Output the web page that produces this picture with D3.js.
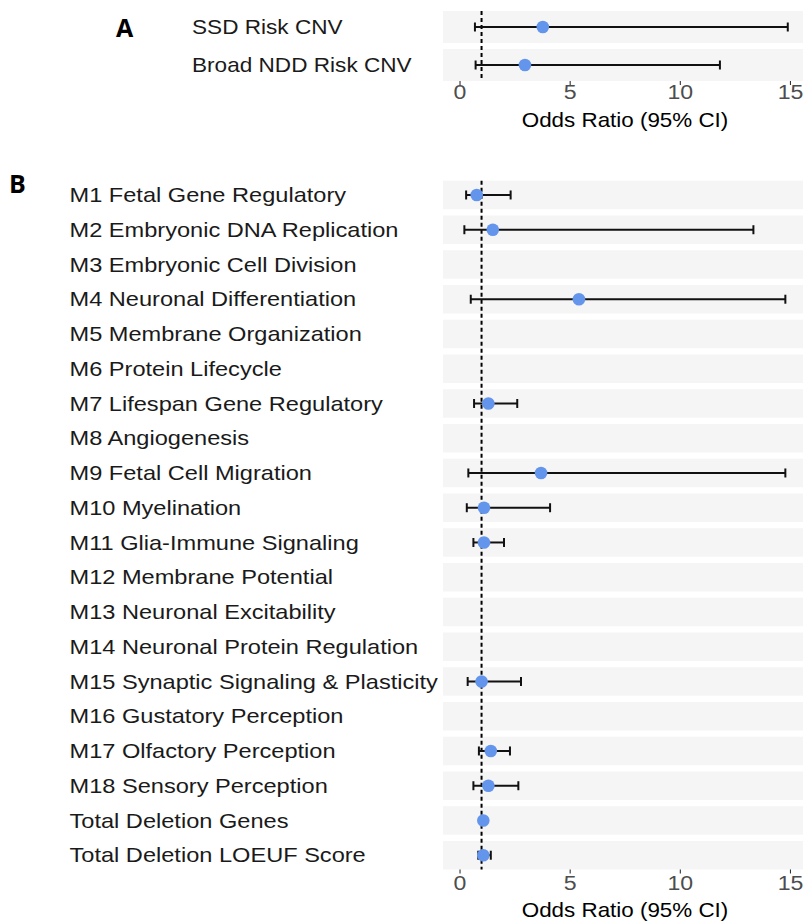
<!DOCTYPE html>
<html>
<head>
<meta charset="utf-8">
<script src="https://cdn.jsdelivr.net/npm/d3@7/dist/d3.min.js"></script>
<style>
  html, body { margin: 0; padding: 0; background: #fff; }
  svg { display: block; }
  text { font-family: "Liberation Sans", Arial, Helvetica, sans-serif; }
</style>
</head>
<body>
<svg id="chart" width="803" height="922"></svg>
<script>
// ---------- Data ----------
const cnvCategories = ["SSD Risk CNV", "Broad NDD Risk CNV"];
const cnvOR   = [3.78, 2.97];
const cnvLow  = [0.70, 0.73];
const cnvHigh = [14.9, 11.82];

const moduleCategories = [
  "M1 Fetal Gene Regulatory",
  "M2 Embryonic DNA Replication",
  "M3 Embryonic Cell Division",
  "M4 Neuronal Differentiation",
  "M5 Membrane Organization",
  "M6 Protein Lifecycle",
  "M7 Lifespan Gene Regulatory",
  "M8 Angiogenesis",
  "M9 Fetal Cell Migration",
  "M10 Myelination",
  "M11 Glia-Immune Signaling",
  "M12 Membrane Potential",
  "M13 Neuronal Excitability",
  "M14 Neuronal Protein Regulation",
  "M15 Synaptic Signaling & Plasticity",
  "M16 Gustatory Perception",
  "M17 Olfactory Perception",
  "M18 Sensory Perception",
  "Total Deletion Genes",
  "Total Deletion LOEUF Score"
];
const moduleOR   = [0.78, 1.51, null, 5.42, null, null, 1.31, null, 3.70, 1.11, 1.11, null, null, null, 1.00, null, 1.42, 1.31, 1.08, 1.08];
const moduleLow  = [0.30, 0.22, null, 0.51, null, null, 0.66, null, 0.40, 0.33, 0.63, null, null, null, 0.37, null, 0.88, 0.63, 1.03, 0.85];
const moduleHigh = [2.32, 13.34, null, 14.79, null, null, 2.62, null, 14.79, 4.11, 2.02, null, null, null, 2.79, null, 2.29, 2.67, 1.13, 1.42];

const xTicks = [0, 5, 10, 15];
const refLine = 1;
const axisTitle = "Odds Ratio (95% CI)";

// ---------- Layout ----------
const svg = d3.select("#chart");
const panelLeft = 443, panelRight = 803;
const x = d3.scaleLinear().domain([-0.75, 15.75]).range([panelLeft, 806.5]);
const SX = 1.17; // horizontal text stretch for labels

function drawPanel(cfg) {
  const rows = cfg.cats.map((c, i) => ({ cat: c, or: cfg.or[i], lo: cfg.lo[i], hi: cfg.hi[i] }));
  const y = d3.scaleBand().domain(cfg.cats).range(cfg.yRange)
    .paddingInner(cfg.padIn).paddingOuter(cfg.padIn / 2);
  const g = svg.append("g");
  const top = y(cfg.cats[0]);
  const bottom = y(cfg.cats[cfg.cats.length - 1]) + y.bandwidth();

  g.selectAll("rect.band").data(rows).join("rect")
    .attr("class", "band")
    .attr("x", panelLeft).attr("width", panelRight - panelLeft)
    .attr("y", d => y(d.cat)).attr("height", y.bandwidth())
    .attr("fill", "#f5f5f5");

  g.append("line")
    .attr("x1", x(refLine)).attr("x2", x(refLine))
    .attr("y1", top).attr("y2", bottom)
    .attr("stroke", "#000").attr("stroke-width", 2)
    .attr("stroke-dasharray", "4,3");

  const valid = rows.filter(d => d.or !== null);
  const cy = d => y(d.cat) + y.bandwidth() / 2;

  g.selectAll("line.err").data(valid).join("line")
    .attr("class", "err")
    .attr("x1", d => x(d.lo)).attr("x2", d => x(d.hi))
    .attr("y1", cy).attr("y2", cy)
    .attr("stroke", "#111").attr("stroke-width", 2);
  ["lo", "hi"].forEach(k => {
    g.selectAll("line.cap" + k).data(valid).join("line")
      .attr("class", "cap" + k)
      .attr("x1", d => x(d[k])).attr("x2", d => x(d[k]))
      .attr("y1", d => cy(d) - 4.5).attr("y2", d => cy(d) + 4.5)
      .attr("stroke", "#111").attr("stroke-width", 2);
  });

  g.selectAll("circle").data(valid).join("circle")
    .attr("cx", d => x(d.or)).attr("cy", cy).attr("r", 6.3)
    .attr("fill", "#6495ED");

  g.selectAll("text.lab").data(rows).join("text")
    .attr("class", "lab")
    .attr("transform", d => `translate(${cfg.labelX},${cy(d) + 7.2}) scale(${cfg.labSX},1)`)
    .attr("font-size", 20).attr("fill", "#1a1a1a")
    .text(d => d.cat);

  const axis = d3.axisBottom(x).tickValues(xTicks).tickSize(4).tickPadding(3);
  const ag = g.append("g").attr("transform", `translate(0,${bottom})`).call(axis);
  ag.select(".domain").remove();
  ag.selectAll(".tick line").attr("stroke", "#333").attr("stroke-width", 1.1);
  ag.selectAll(".tick text")
    .attr("y", null).attr("dy", null)
    .attr("transform", `translate(0,${cfg.tickBase}) scale(1.1,1)`)
    .attr("font-size", 21).attr("fill", "#4d4d4d")
    .style("font-family", "'Liberation Sans', Arial, sans-serif");

  g.append("text")
    .attr("transform", `translate(${(panelLeft + panelRight) / 2 + 2},${bottom + cfg.titleBase}) scale(1.12,1)`)
    .attr("text-anchor", "middle").attr("font-size", 20).attr("fill", "#000")
    .text(axisTitle);

  g.append("text")
    .attr("x", cfg.letterX).attr("y", cfg.letterY)
    .attr("font-size", 25).attr("font-weight", "bold")
    .style("font-family", "'Open Sans', 'Liberation Sans', sans-serif")
    .attr("fill", "#000")
    .text(cfg.letter);
}

drawPanel({
  cats: cnvCategories, or: cnvOR, lo: cnvLow, hi: cnvHigh,
  yRange: [8, 84], padIn: 0.158, labelX: 192, labSX: 1.13,
  tickBase: 18.5, titleBase: 45.8,
  letter: "A", letterX: 116, letterY: 37
});

drawPanel({
  cats: moduleCategories, or: moduleOR, lo: moduleLow, hi: moduleHigh,
  yRange: [177.6, 872.6], padIn: 0.18, labelX: 69.5, labSX: 1.18,
  tickBase: 20.7, titleBase: 47.7,
  letter: "B", letterX: 9, letterY: 193
});
</script>
</body>
</html>
